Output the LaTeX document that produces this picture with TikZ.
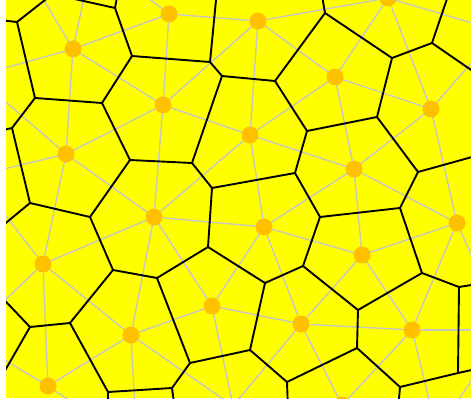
\documentclass[tikz,border=0pt]{standalone}
\begin{document}
\definecolor{bgyellow}{RGB}{255,255,0}
\definecolor{siteorange}{RGB}{255,192,0}
\definecolor{delgrey}{RGB}{200,200,190}
\begin{tikzpicture}[x=1pt,y=-1pt,
  vor/.style={line width=1.9pt, black, line cap=round, line join=round},
  del/.style={line width=1.4pt, delgrey},
  site/.style={circle, fill=siteorange, inner sep=0pt, minimum size=17pt}]
\useasboundingbox (0,0) rectangle (471,401);
% sites
\coordinate (s1) at (73,49);
\coordinate (s2) at (169,14);
\coordinate (s3) at (258,21);
\coordinate (s4) at (388,-2);
\coordinate (s5) at (335,77);
\coordinate (s6) at (431,109);
\coordinate (s7) at (163,105);
\coordinate (s8) at (250,135);
\coordinate (s9) at (66,154);
\coordinate (s10) at (354,169);
\coordinate (s11) at (154,217);
\coordinate (s12) at (264,227);
\coordinate (s13) at (43,264);
\coordinate (s14) at (457,223);
\coordinate (s15) at (362,255);
\coordinate (s16) at (212,306);
\coordinate (s17) at (301,324);
\coordinate (s18) at (412,330);
\coordinate (s19) at (131,335);
\coordinate (s20) at (48,386);
\coordinate (s21) at (342,405);
% sites outside the frame
\coordinate (t0) at (20,-40);
\coordinate (t1) at (93,-44);
\coordinate (l1) at (-24,76);
\coordinate (l1b) at (-25,176);
\coordinate (l2) at (-34,337);
\coordinate (b0) at (137,447);
\coordinate (b1) at (233,406);
\coordinate (b2) at (437,432);
\coordinate (r0) at (499,31);
\coordinate (r3) at (505,330);
% Voronoi vertices
\coordinate (va) at (17,22);
\coordinate (vt1) at (115,8);
\coordinate (vb) at (35,98);
\coordinate (vb2) at (12,128);
\coordinate (vc) at (102,103);
\coordinate (vd) at (132,56);
\coordinate (ve) at (210,62);
\coordinate (vf) at (222,76);
\coordinate (vg) at (275,81);
\coordinate (vh) at (325,13);
\coordinate (vi) at (392,58);
\coordinate (vj) at (432,43);
\coordinate (vk) at (377,117);
\coordinate (vn) at (307,131);
\coordinate (vl) at (418,172);
\coordinate (vm) at (295,173);
\coordinate (vo) at (30,203);
\coordinate (vp) at (90,217);
\coordinate (vq) at (130,160);
\coordinate (vr) at (192,163);
\coordinate (vs) at (212,188);
\coordinate (vt) at (208,247);
\coordinate (vu) at (400,208);
\coordinate (vv) at (320,217);
\coordinate (vw) at (113,270);
\coordinate (vx) at (157,278);
\coordinate (vy) at (70,323);
\coordinate (vz) at (30,327);
\coordinate (vaa) at (108,392);
\coordinate (vab) at (190,363);
\coordinate (vac) at (250,350);
\coordinate (vad) at (172,388);
\coordinate (vae) at (265,283);
\coordinate (vaf) at (287,382);
\coordinate (vag) at (358,310);
\coordinate (vah) at (422,273);
\coordinate (vai) at (459,287);
\coordinate (vaj) at (458,373);
\coordinate (vak) at (400,387);
\coordinate (val) at (357,348);
\coordinate (vam) at (303,266);
% free ends beyond the frame
\coordinate (ea1) at (59,-11);
\coordinate (ea2) at (-10,19);
\coordinate (et1) at (70,-2);
\coordinate (et2) at (118,-8);
\coordinate (eb2) at (-5,132);
\coordinate (ee) at (217,-10);
\coordinate (eh) at (321,-10);
\coordinate (ej1) at (450,-10);
\coordinate (ej2) at (490,83);
\coordinate (el) at (490,152);
\coordinate (eo) at (-10,236);
\coordinate (ez1) at (-10,285);
\coordinate (ez2) at (-5,388);
\coordinate (eaa) at (108,410);
\coordinate (ead) at (175,410);
\coordinate (eaf) at (288,410);
\coordinate (eak) at (398,410);
\coordinate (eai) at (490,282);
\coordinate (eaj) at (490,366);
\begin{scope}
\clip (6,0) rectangle (471,398);
\fill[bgyellow] (6,0) rectangle (471,398);
% Delaunay edges
\foreach \a/\b in {s1/t0,t0/l1,s1/l1,s1/t1,t1/s2,s1/s2,s1/s9,s9/l1,l1/l1b,s9/l1b,
  s1/s7,s9/s7,s2/s7,s2/s3,s3/s7,s3/s8,s7/s8,s3/s5,s5/s8,s3/s4,s4/s5,s4/s6,s5/s6,
  s4/r0,r0/s6,s5/s10,s6/s10,s8/s10,s6/s14,s10/s14,s8/s12,s10/s12,l1b/s13,s9/s13,
  s9/s11,s13/s11,s7/s11,s8/s11,s11/s12,s11/s16,s12/s16,s10/s15,s14/s15,s12/s15,
  s11/s19,s13/s19,s16/s19,s13/s20,s19/s20,s13/l2,l2/s20,s19/b0,s20/b0,s16/b1,
  s19/b1,b0/b1,s16/s17,s17/b1,s12/s17,s15/s17,s17/s21,b1/s21,s15/s18,s17/s18,
  s14/s18,s14/r3,s18/r3,r3/b2,s18/b2,s18/s21,s21/b2}
  \draw[del] (\a) -- (\b);
% Voronoi edges
\foreach \a/\b in {va/ea1,va/ea2,va/vb,vt1/et1,vt1/et2,vt1/vd,vb/vc,vb/vb2,vb2/eb2,
  vb2/vo,vc/vd,vc/vq,vd/ve,ve/ee,ve/vf,vf/vg,vf/vr,vg/vh,vg/vn,vh/eh,vh/vi,vi/vj,
  vi/vk,vj/ej1,vj/ej2,vk/vn,vk/vl,vn/vm,vl/el,vl/vu,vm/vs,vm/vv,vo/eo,vo/vp,vp/vq,
  vp/vw,vq/vr,vr/vs,vs/vt,vt/vx,vt/vae,vu/vv,vu/vah,vv/vam,vw/vx,vw/vy,vx/vab,
  vy/vz,vy/vaa,vz/ez1,vz/ez2,vaa/vad,vaa/eaa,vab/vac,vab/vad,vad/ead,vac/vae,
  vac/vaf,vae/vam,vam/vag,vaf/val,vaf/eaf,vag/vah,vag/val,vah/vai,vai/eai,vai/vaj,
  vaj/eaj,vaj/vak,vak/val,vak/eak}
  \draw[vor] (\a) -- (\b);
% site dots
\foreach \s in {s1,s2,s3,s4,s5,s6,s7,s8,s9,s10,s11,s12,s13,s14,s15,s16,s17,s18,s19,s20,s21}
  \node[site] (d\s) at (\s) {};
\end{scope}
\end{tikzpicture}
\end{document}
